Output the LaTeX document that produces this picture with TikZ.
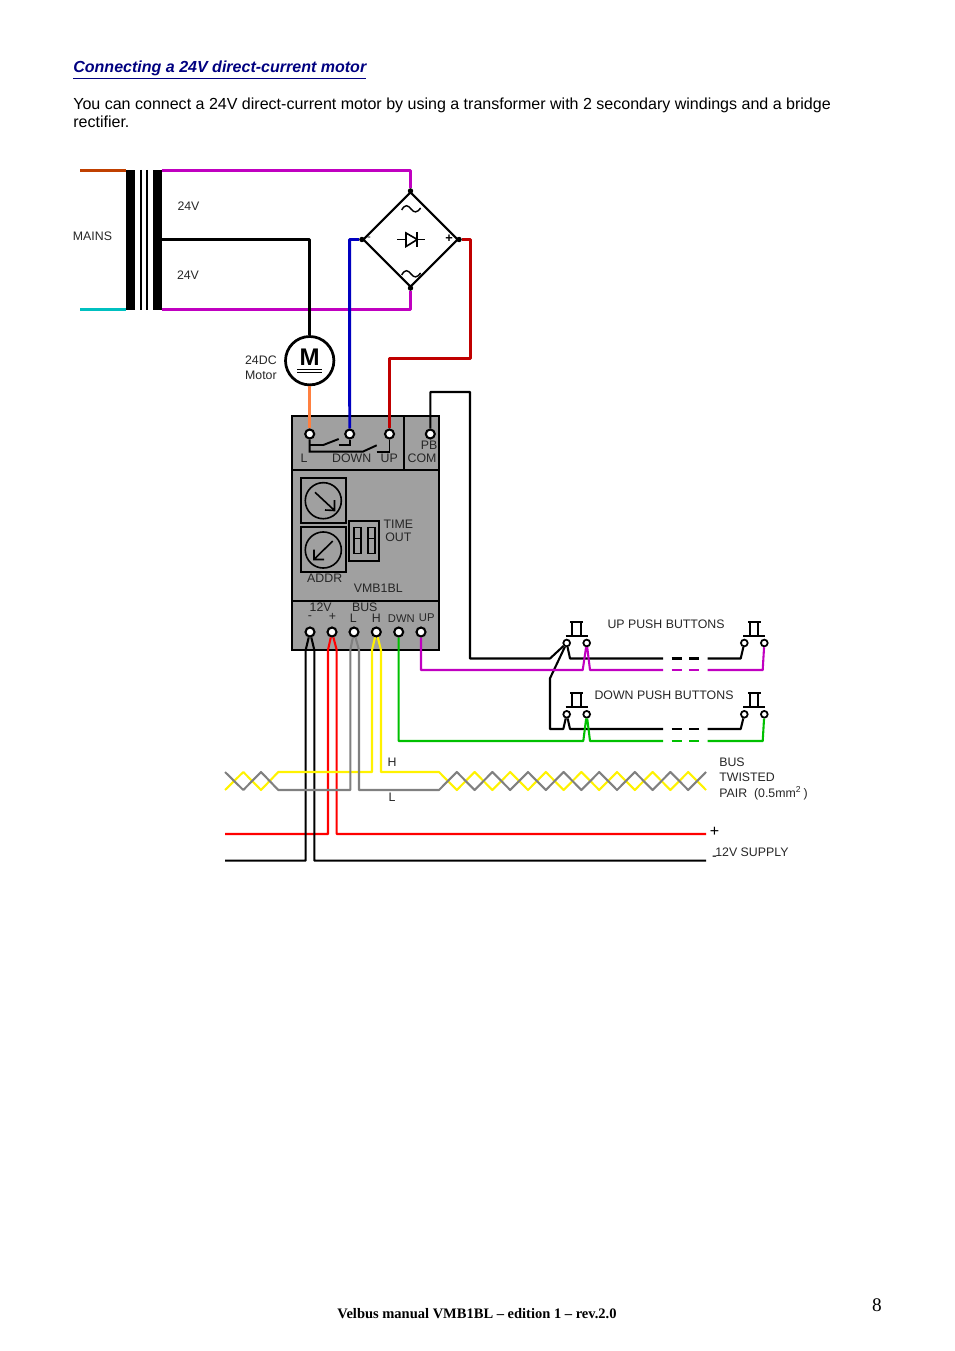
\documentclass[tikz,border=0pt]{standalone}
\usepackage{fontspec}
\setmainfont{Liberation Sans}
\newfontfamily\footfont{Liberation Serif}
\usetikzlibrary{arrows,shapes.geometric,positioning}
\definecolor{vbbrown}{RGB}{192,64,0}
\definecolor{vbcyan}{RGB}{0,192,192}
\definecolor{vbpurple}{RGB}{192,0,192}
\definecolor{vbblue}{RGB}{0,0,192}
\definecolor{vbred}{RGB}{192,0,0}
\definecolor{vborange}{RGB}{255,128,64}
\definecolor{vbgreen}{RGB}{0,192,0}
\definecolor{vbgrey}{RGB}{128,128,128}
\definecolor{vbbody}{RGB}{160,160,160}
\definecolor{vbtitle}{RGB}{0,0,128}
\tikzstyle{wire} = [line width=1.8pt,line join=round]
\tikzstyle{thinwire} = [line width=1.3pt,line join=round]
\tikzstyle{core} = [fill=black,draw=none]
\tikzstyle{lbl} = [inner sep=0pt,yshift=-0.4pt,font=\fontsize{7.7}{9.5}\selectfont,text=black!85]
\tikzstyle{term} = [circle,draw=black,fill=white,line width=1.3pt,inner sep=0pt,minimum size=5.6pt]
\tikzstyle{pbterm} = [circle,draw=black,fill=white,line width=1.1pt,inner sep=0pt,minimum size=4.2pt]
\tikzstyle{corner} = [circle,fill=black,inner sep=0pt,minimum size=3.4pt]
\tikzstyle{pbpart} = [line width=1.3pt]
\newcommand{\pushbutton}[3]{% x of left contact, y of contacts, name
  \node[pbterm] (#3a) at (#1,#2) {};
  \node[pbterm] (#3b) at (#1+20,#2) {};
  \draw[pbpart] (#1-1,#2-7) -- (#1+21,#2-7);
  \draw[pbpart] (#1+5.5,#2-7) -- (#1+5.5,#2-21) (#1+14,#2-7) -- (#1+14,#2-21);
  \draw[pbpart] (#1+3.5,#2-21) -- (#1+16.5,#2-21);
}
\begin{document}
\begin{tikzpicture}[x=0.624pt,y=-0.624pt]
\useasboundingbox (0,0) rectangle (954,1351);

% Page text
\node[anchor=base west,inner sep=0pt,text=vbtitle,font=\fontsize{10}{12}\selectfont\bfseries\itshape] (title) at (73,72.8) {\underline{Connecting a 24V direct-current motor}};
\node[anchor=north west,inner sep=0pt,align=left,font=\fontsize{10}{11.2}\selectfont] (intro) at (73,97.5) {You can connect a 24V direct-current motor by using a transformer with 2 secondary windings and a bridge\\rectifier.};
\node[inner sep=0pt,font=\footfont\fontsize{9.05}{11}\selectfont\bfseries] (footer) at (477,1313.7) {Velbus manual VMB1BL – edition 1 – rev.2.0};
\node[inner sep=0pt,font=\footfont\fontsize{12}{14}\selectfont] (pageno) at (877,1305.5) {8};

% Transformer
\fill[core] (126.3,170) rectangle (135,310);
\fill[core] (153.3,170) rectangle (161.7,310);
\draw[line width=1.3pt] (140.7,170) -- (140.7,310) (147.3,170) -- (147.3,310);
\coordinate (mainsa) at (80,170.5);
\coordinate (mainsb) at (80,309.4);
\coordinate (seca) at (161.7,170.5);
\coordinate (secm) at (161.7,239.5);
\coordinate (secb) at (161.7,309.4);
\draw[wire,vbbrown] (mainsa) -- (126.3,170.5);
\draw[wire,vbcyan] (mainsb) -- (126.3,309.4);
\node[lbl] (mains) at (92.5,236) {MAINS};
\node[lbl] (vtop) at (188.5,206) {24V};
\node[lbl] (vbot) at (188,275) {24V};

% Bridge rectifier
\node[diamond,aspect=1,draw=black,line width=1.3pt,inner sep=0pt,minimum size=59.3pt] (bridge) at (410.5,239.5) {};
\node[corner] (bn) at (bridge.north) {};
\node[corner] (bs) at (bridge.south) {};
\node[corner] (be) at (bridge.east) {};
\node[corner] (bw) at (bridge.west) {};
\node[inner sep=0pt,font=\fontsize{7}{8}\selectfont] (bminus) at (369,239) {-};
\node[inner sep=0pt,font=\fontsize{8}{9}\selectfont\bfseries] (bplus) at (449,238.5) {+};
\draw[line width=0.9pt] (401.7,210) .. controls (405,204) and (408,205) .. (411,209) .. controls (414,213) and (417,213) .. (420.7,208);
\draw[line width=0.9pt] (401.7,275) .. controls (405,269) and (408,270) .. (411,274) .. controls (414,278) and (417,278) .. (420.7,273);
\draw[line width=1pt] (397.3,239.5) -- (425,239.5);
\draw[line width=1pt,fill=white,line join=miter] (406,233) -- (417.3,239.5) -- (406,246.5) -- cycle;
\draw[line width=1.2pt] (417.3,232.5) -- (417.3,247);

% Motor
\node[circle,draw=black,line width=1.7pt,fill=white,inner sep=0pt,minimum size=30.2pt] (motor) at (309.7,360.7) {};
\node[inner sep=0pt,font=\fontsize{15}{16}\selectfont\bfseries] (motorm) at (309.7,357) {M};
\draw[line width=0.6pt] (297.3,369.3) -- (321.7,369.3) (297.3,372.7) -- (321.7,372.7);
\node[lbl,align=left,anchor=east] (motorlbl) at (277,367) {24DC\\Motor};

% Module body
\draw[fill=vbbody,line width=1.4pt] (292,416) rectangle (438.7,650);
\draw[line width=1.4pt] (292,469.7) -- (438.7,469.7) (292,601) -- (438.7,601) (403.7,416) -- (403.7,469.7);

% Knobs and dip switch
\draw[line width=1.2pt] (300.7,478.3) rectangle (346,523) (300.7,527.3) rectangle (346,572.3);
\node[circle,draw=black,line width=1pt,inner sep=0pt,minimum size=22.5pt] (knoba) at (323.3,500.7) {};
\node[circle,draw=black,line width=1pt,inner sep=0pt,minimum size=22.5pt] (knobb) at (323.3,550) {};
\draw[line width=1pt] (315,492.3) -- (334,510) (325,510) -- (334.5,510.5) -- (334.5,500);
\draw[line width=1pt] (332.7,541) -- (314,559.5) (314,549.5) -- (314,559.5) -- (324,559.5);
\draw[line width=1.2pt] (349.3,520.7) rectangle (379.3,561);
\draw[line width=1pt] (354,527.3) rectangle (361,553.3) (368,527.3) rectangle (375,553.3);
\draw[line width=1pt] (354,538.3) -- (361,538.3) (368,538.3) -- (375,538.3);

% Module texts
\node[lbl] (lbll) at (304,457.7) {L};
\node[lbl] (lbldown) at (351.7,457.7) {DOWN};
\node[lbl] (lblup) at (389.3,457.7) {UP};
\node[lbl] (lblpb) at (429,444.3) {PB};
\node[lbl] (lblcom) at (422,458) {COM};
\node[lbl] (lbltime) at (398.3,523.7) {TIME};
\node[lbl] (lblout) at (398.3,536.5) {OUT};
\node[lbl] (lbladdr) at (324.7,577.7) {ADDR};
\node[lbl] (lblvmb) at (378.3,587.5) {VMB1BL};
\node[lbl] (lbltwelve) at (320.7,606.2) {12V};
\node[lbl] (lblbus) at (364.7,606.7) {BUS};
\node[lbl] (lblminus) at (310,616.5) {-};
\node[lbl] (lblplus) at (332.5,616) {+};
\node[lbl] (lblbl) at (353.3,617.5) {L};
\node[lbl] (lblbh) at (376.3,617.5) {H};
\node[lbl,font=\fontsize{7}{8}\selectfont] (lbldwn) at (401.3,617.5) {DWN};
\node[lbl,font=\fontsize{7}{8}\selectfont] (lblbup) at (426.7,617.5) {UP};

% Module terminals
\node[term] (tl) at (309.7,434) {};
\node[term] (tdown) at (349.7,434) {};
\node[term] (tup) at (389.5,434) {};
\node[term] (tpb) at (430.3,434) {};
\node[term] (tneg) at (310,632) {};
\node[term] (tpos) at (332,632) {};
\node[term] (tbl) at (354,632) {};
\node[term] (tbh) at (376.3,632) {};
\node[term] (tdwn) at (398.7,632) {};
\node[term] (tbup) at (421,632) {};

% Relay contacts
\draw[line width=1.2pt] (tl) -- (309.7,451.7) -- (362.7,451.7) -- (376.7,445.3);
\draw[line width=1.2pt] (376.7,451.7) -- (389.5,451.7) -- (tup);
\draw[line width=1.2pt] (309.7,445) -- (323.3,445) -- (338.7,439);
\draw[line width=1.2pt] (338.7,445) -- (349.7,445) -- (tdown);

% Supply side wiring
\draw[wire,vbpurple] (seca) -- (410.5,170.5) -- (bn);
\draw[wire,vbpurple] (secb) -- (410.5,309.4) -- (bs);
\draw[wire,black] (secm) -- (309.7,239.5) -- (motor);
\draw[wire,vbblue] (bw) -- (349.6,239.5) -- (tdown);
\draw[wire,vbred] (be) -- (470.5,239.5) -- (470.5,358.5) -- (389.5,358.5) -- (tup);
\draw[wire,vborange] (motor) -- (tl);

% Push buttons
\pushbutton{566.7}{643}{upa}
\pushbutton{744.3}{643}{upb}
\pushbutton{566.7}{714.3}{dna}
\pushbutton{744.3}{714.3}{dnb}
\node[lbl] (lblpbup) at (666,623.5) {UP PUSH BUTTONS};
\node[lbl] (lblpbdn) at (664,694.5) {DOWN PUSH BUTTONS};

% Push button wiring
\draw[thinwire] (tpb) -- (430.3,392) -- (470,392) -- (470,658.5) -- (550,658.5) -- (upaa);
\draw[thinwire] (upaa) -- (550,678.3) -- (550,729) -- (563.3,729) -- (dnaa);
\foreach \py/\pa/\pb in {658.5/upa/upb,729/dna/dnb}{
  \draw[thinwire] (\pa a) -- (570,\py) -- (663,\py);
  \draw[thinwire] (671.7,\py) -- (681.7,\py) (689.3,\py) -- (699.3,\py);
  \draw[thinwire] (707.7,\py) -- (740.7,\py) -- (\pb a);
}
\draw[thinwire,vbpurple] (tbup) -- (421,670) -- (582.7,670) -- (upab) -- (590,670) -- (663,670);
\draw[thinwire,vbpurple] (671.7,670) -- (681.7,670) (689.3,670) -- (699.3,670);
\draw[thinwire,vbpurple] (707.7,670) -- (762.7,670) -- (upbb);
\draw[thinwire,vbgreen] (tdwn) -- (398.7,741) -- (583.3,741) -- (dnab) -- (590,741) -- (663,741);
\draw[thinwire,vbgreen] (671.7,741) -- (681.7,741) (689.3,741) -- (699.3,741);
\draw[thinwire,vbgreen] (707.7,741) -- (762.7,741) -- (dnbb);

% 12V supply
\coordinate (posa) at (225,834);
\coordinate (posb) at (706,834);
\coordinate (nega) at (225,860.7);
\coordinate (negb) at (706,860.7);
\draw[thinwire,red] (posa) -- (328,834) -- (328,650) -- (tpos);
\draw[thinwire,red] (tpos) -- (336.7,650) -- (336.7,834) -- (posb);
\draw[thinwire,black] (nega) -- (305.7,860.7) -- (305.7,650) -- (tneg);
\draw[thinwire,black] (tneg) -- (314.3,650) -- (314.3,860.7) -- (negb);
\node[inner sep=0pt,font=\fontsize{10}{11}\selectfont] (supplyplus) at (714.5,832) {+};
\node[inner sep=0pt,font=\fontsize{9}{10}\selectfont] (supplyminus) at (714.5,858.5) {-};
\node[lbl,anchor=west] (supply) at (715,852) {12V SUPPLY};

% Twisted pair
\coordinate (twya) at (225,790);
\coordinate (twga) at (225,772);
\draw[thinwire,yellow] (twya) -- (243.3,772) -- (261,790) -- (278.3,772) -- (372,772) -- (372,650) -- (tbh);
\draw[thinwire,yellow] (tbh) -- (381,650) -- (381,772) -- (439,772)
  \foreach \i in {1,...,15}{ -- ({439+17.8*\i},{772+18*mod(\i,2)}) };
\draw[thinwire,vbgrey] (twga) -- (243.3,790) -- (261,772) -- (278.3,790) -- (350.3,790) -- (350.3,650) -- (tbl);
\draw[thinwire,vbgrey] (tbl) -- (359,650) -- (359,790) -- (439,790)
  \foreach \i in {1,...,15}{ -- ({439+17.8*\i},{790-18*mod(\i,2)}) };
\node[lbl] (lblh) at (392,762) {H};
\node[lbl] (lbllow) at (392,797) {L};
\node[lbl,anchor=west] (lbltwa) at (719,762) {BUS};
\node[lbl,anchor=west] (lbltwb) at (719,777) {TWISTED};
\node[lbl,anchor=base west] (lbltwc) at (719,796.5) {PAIR~~(0.5mm\textsuperscript{2}\,)};
\end{tikzpicture}
\end{document}
